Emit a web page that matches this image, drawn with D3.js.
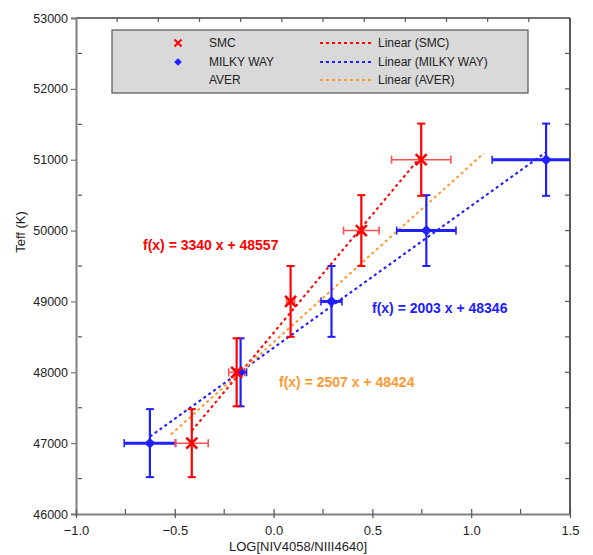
<!DOCTYPE html>
<html>
<head>
<meta charset="utf-8">
<script src="https://cdn.jsdelivr.net/npm/d3@7"></script>
<style>
  body { margin: 0; background: #fff; }
  text { font-family: "Liberation Sans", Arial, sans-serif; }
</style>
</head>
<body>
<script>
'use strict'

var width = 593
var height = 555

// SMC
var smcX = [-0.414, -0.187, 0.086, 0.444, 0.747]
var smcY = [47000, 48000, 49000, 50000, 51000]
var smcXErr = [0.083, 0.04, 0.02, 0.09, 0.15]
var smcYErr = [480, 480, 500, 500, 510]

// MILKY WAY
var mwX = [-0.626, -0.167, 0.293, 0.773, 1.379]
var mwY = [47000, 48000, 49000, 50000, 51000]
var mwXErr = [0.13, 0.03, 0.053, 0.15, 0.273]
var mwYErr = [480, 480, 500, 500, 510]

// AVER (no markers shown)
var averX = [-0.52, -0.177, 0.19, 0.61, 1.063]

// linear fits
var fitNames = ["SMC", "MILKY WAY", "AVER"]
var fitSlopes = [3340, 2003, 2507]
var fitIntercepts = [48557, 48346, 48424]
var fitColors = ["#ff0000", "#2020ff", "#ff9933"]

var xTicks = [-1.0, -0.5, 0.0, 0.5, 1.0, 1.5]
var yTicks = [46000, 47000, 48000, 49000, 50000, 51000, 52000, 53000]

var x = d3.scaleLinear().domain([-1, 1.5]).range([76, 570])
var y = d3.scaleLinear().domain([46000, 53000]).range([514, 18])

var svg = d3.select("body").append("svg")
  .attr("width", width)
  .attr("height", height)

svg.append("defs").append("clipPath").attr("id", "plot")
  .append("rect")
  .attr("x", x.range()[0]).attr("y", y.range()[1])
  .attr("width", x.range()[1] - x.range()[0])
  .attr("height", y.range()[0] - y.range()[1])

// frame: top and right dark
svg.append("line").attr("x1", 76).attr("x2", 570).attr("y1", 18).attr("y2", 18)
  .attr("stroke", "#444").attr("stroke-width", 1.5)
svg.append("line").attr("x1", 570).attr("x2", 570).attr("y1", 18).attr("y2", 514)
  .attr("stroke", "#222").attr("stroke-width", 1.5)

// minor ticks inside
var g = svg.append("g")
d3.range(46500, 53000, 1000).forEach(function (v) {
  g.append("line").attr("x1", 78).attr("x2", 82).attr("y1", y(v)).attr("y2", y(v))
    .attr("stroke", "#555").attr("stroke-width", 1.2)
})
d3.range(46500, 53000, 500).forEach(function (v) {
  g.append("line").attr("x1", 565).attr("x2", 570).attr("y1", y(v)).attr("y2", y(v))
    .attr("stroke", "#555").attr("stroke-width", 1.2)
})
d3.range(-0.75, 1.5, 0.5).forEach(function (u) {
  g.append("line").attr("x1", x(u)).attr("x2", x(u)).attr("y1", 509).attr("y2", 514)
    .attr("stroke", "#555").attr("stroke-width", 1.2)
})
var topScale = d3.scaleLinear().domain([0, 12]).range([76, 570])
d3.range(1, 12).forEach(function (k) {
  g.append("line").attr("x1", topScale(k)).attr("x2", topScale(k)).attr("y1", 18).attr("y2", 22)
    .attr("stroke", "#555").attr("stroke-width", 1.2)
})

// left axis
var yAxis = svg.append("g")
  .attr("transform", "translate(76,0)")
  .call(d3.axisLeft(y).tickValues(yTicks).tickFormat(d3.format("d")).tickSize(5).tickPadding(3))
yAxis.select(".domain").attr("stroke", "#808080").attr("stroke-width", 2)
yAxis.selectAll(".tick line").attr("stroke", "#777").attr("stroke-width", 1.2)
yAxis.selectAll(".tick text").attr("fill", "#222").style("font-size", "12.5px")
  .style("font-family", "'Liberation Sans', Arial, sans-serif")

// bottom axis
var xAxis = svg.append("g")
  .attr("transform", "translate(0,514)")
  .call(d3.axisBottom(x).tickValues(xTicks).tickFormat(d3.format(".1f")).tickSizeInner(4).tickSizeOuter(0).tickPadding(8))
xAxis.select(".domain").attr("stroke", "#808080").attr("stroke-width", 2)
xAxis.selectAll(".tick line").attr("stroke", "#555").attr("stroke-width", 1.2)
  .attr("y1", -5).attr("y2", 4)
xAxis.selectAll(".tick text").attr("fill", "#222").style("font-size", "13px")
  .style("font-family", "'Liberation Sans', Arial, sans-serif")

// axis titles
svg.append("text")
  .attr("transform", "translate(25,232) rotate(-90)")
  .attr("text-anchor", "middle")
  .style("font-size", "13px").attr("fill", "#222")
  .text("Teff (K)")
svg.append("text")
  .attr("x", 298).attr("y", 551)
  .attr("text-anchor", "middle")
  .style("font-size", "13px").attr("fill", "#222")
  .text("LOG[NIV4058/NIII4640]")

var plot = svg.append("g").attr("clip-path", "url(#plot)")

// fit lines over each series' x range
var fitRanges = [d3.extent(smcX), d3.extent(mwX), d3.extent(averX)]
fitNames.forEach(function (name, i) {
  var r = fitRanges[i]
  plot.append("line")
    .attr("x1", x(r[0])).attr("y1", y(fitSlopes[i] * r[0] + fitIntercepts[i]))
    .attr("x2", x(r[1])).attr("y2", y(fitSlopes[i] * r[1] + fitIntercepts[i]))
    .attr("stroke", fitColors[i])
    .attr("stroke-width", 2)
    .attr("stroke-dasharray", "3,3")
})

function errorBars(xs, ys, xe, ye, color, hColor, hWidth, vWidth) {
  var eb = plot.append("g")
  xs.forEach(function (u, i) {
    var cx = x(u), cy = y(ys[i])
    var x0 = x(u - xe[i]), x1 = x(u + xe[i])
    var y0 = y(ys[i] - ye[i]), y1 = y(ys[i] + ye[i])
    // vertical
    eb.append("line").attr("x1", cx).attr("x2", cx).attr("y1", y0).attr("y2", y1)
      .attr("stroke", color).attr("stroke-width", vWidth)
    ;[y0, y1].forEach(function (yy) {
      eb.append("line").attr("x1", cx - 4).attr("x2", cx + 4).attr("y1", yy).attr("y2", yy)
        .attr("stroke", color).attr("stroke-width", 2)
    })
    // horizontal
    eb.append("line").attr("x1", x0).attr("x2", x1).attr("y1", cy).attr("y2", cy)
      .attr("stroke", hColor).attr("stroke-width", hWidth)
    ;[x0, x1].forEach(function (xx) {
      eb.append("line").attr("x1", xx).attr("x2", xx).attr("y1", cy - 4).attr("y2", cy + 4)
        .attr("stroke", hColor).attr("stroke-width", 1.6)
    })
  })
}

errorBars(mwX, mwY, mwXErr, mwYErr, "#2020ff", "#2020ff", 3, 2.2)
errorBars(smcX, smcY, smcXErr, smcYErr, "#ff0000", "#ff5050", 1.5, 2.2)

function cross(g, cx, cy, r, w, color) {
  g.append("path")
    .attr("d", "M" + (cx - r) + "," + (cy - r) + "L" + (cx + r) + "," + (cy + r) +
      "M" + (cx - r) + "," + (cy + r) + "L" + (cx + r) + "," + (cy - r))
    .attr("stroke", color).attr("stroke-width", w).attr("fill", "none")
}

var diamond = d3.symbol().type(d3.symbolSquare).size(60)

plot.selectAll(".mw")
  .data(mwX)
  .enter()
  .append("path")
  .attr("d", diamond)
  .attr("transform", function (d, i) { return "translate(" + x(d) + "," + y(mwY[i]) + ") rotate(45)" })
  .attr("fill", "#2020ff")

smcX.forEach(function (u, i) {
  cross(plot, x(u), y(smcY[i]), 5.5, 2.5, "#ff0000")
})

// equation labels
var eqPos = [[143, 250], [372, 313], [279, 387]]
fitNames.forEach(function (name, i) {
  svg.append("text")
    .attr("x", eqPos[i][0]).attr("y", eqPos[i][1])
    .attr("fill", fitColors[i])
    .style("font-size", "14px").style("font-weight", "bold")
    .text("f(x) = " + fitSlopes[i] + " x + " + fitIntercepts[i])
})

// legend
var legend = svg.append("g")
legend.append("rect")
  .attr("x", 112).attr("y", 30).attr("width", 416).attr("height", 63)
  .attr("fill", "#d9d9d9").attr("stroke", "#555").attr("stroke-width", 1.2)
var rowY = [43, 62, 80]
fitNames.forEach(function (name, i) {
  legend.append("text").attr("x", 209).attr("y", rowY[i] + 4)
    .style("font-size", "12px").attr("fill", "#222").text(name)
  legend.append("line").attr("x1", 320).attr("x2", 373).attr("y1", rowY[i]).attr("y2", rowY[i])
    .attr("stroke", fitColors[i]).attr("stroke-width", 2).attr("stroke-dasharray", "3,3")
  legend.append("text").attr("x", 378).attr("y", rowY[i] + 4)
    .style("font-size", "12px").attr("fill", "#222").text("Linear (" + name + ")")
})
cross(legend, 178, rowY[0], 3.5, 2, "#ff0000")
legend.append("path")
  .attr("d", d3.symbol().type(d3.symbolSquare).size(30))
  .attr("transform", "translate(178," + rowY[1] + ") rotate(45)")
  .attr("fill", "#2020ff")
</script>
</body>
</html>
